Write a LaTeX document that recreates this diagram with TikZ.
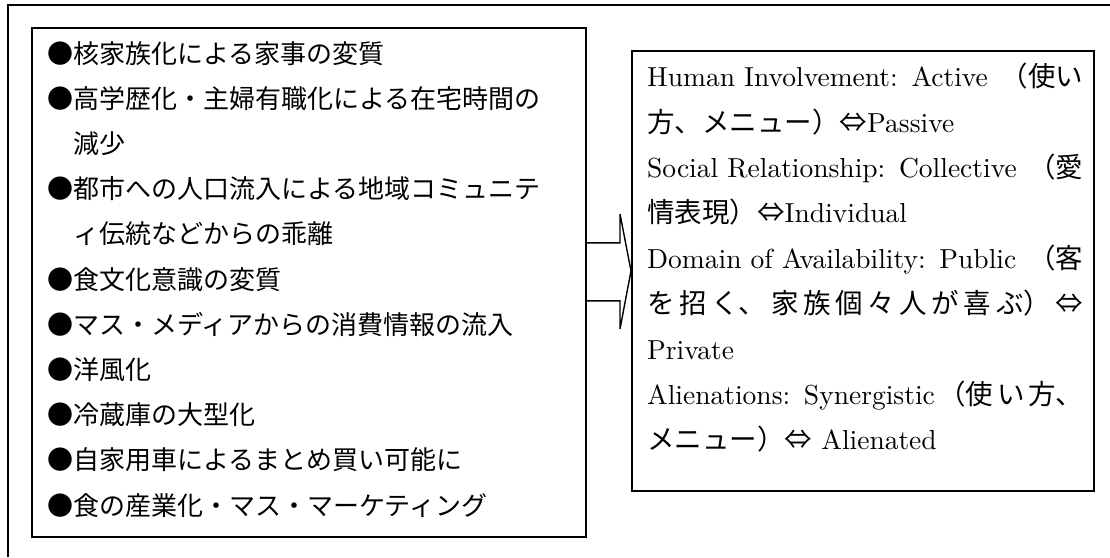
\documentclass[tikz,border=0pt]{standalone}
\usepackage{fontspec}
\setmainfont{lmroman10-regular.otf}
\newfontfamily\jp{Noto Sans CJK JP}
\usetikzlibrary{calc}
\tikzset{
  frameline/.style={line width=1.4pt},
  box/.style={draw, line width=1.6pt, inner sep=0pt, anchor=north west},
  txt/.style={inner sep=0pt, anchor=north west, align=left},
  blockarrow/.style={line width=1.4pt, line join=miter}
}
\begin{document}
\begin{tikzpicture}[x=1pt,y=-1pt]
\useasboundingbox (0,0) rectangle (1110,557);
% outer frame (only top and left edges visible)
\draw[frameline] (8,557) -- (8,5) -- (1110,5);
% boxes
\node[box, minimum width=554pt, minimum height=509pt] (L) at (31,27) {};
\node[box, line width=1.8pt, minimum width=462pt, minimum height=440pt] (R) at (631,50) {};
% left text
\node[txt, text width=530pt, font=\jp\fontsize{26}{45.2}\selectfont] (Lt) at (47,41) {\noindent
●核家族化による家事の変質\\
●高学歴化・主婦有職化による在宅時間の\\
\hspace*{1em}減少\\
●都市への人口流入による地域コミュニテ\\
\hspace*{1em}ィ伝統などからの乖離\\
●食文化意識の変質\\
●マス・メディアからの消費情報の流入\\
●洋風化\\
●冷蔵庫の大型化\\
●自家用車によるまとめ買い可能に\\
●食の産業化・マス・マーケティング};
% right text
\node[txt, text width=436pt, font=\fontsize{27.5}{45.4}\selectfont] (Rt) at (647,63) {\noindent
\makebox[\linewidth]{Human Involvement: Active\hfill{\jp （使い}}\\
{\jp 方、メニュー）⇔}Passive\\
\makebox[\linewidth]{Social Relationship: Collective\hfill{\jp （愛}}\\
{\jp 情表現）⇔}Individual\\
\makebox[\linewidth]{Domain of Availability: Public\hfill{\jp （客}}\\
\makebox[\linewidth]{\jp を\hfill 招\hfill く、\hfill 家\hfill 族\hfill 個\hfill 々\hfill 人\hfill が\hfill 喜\hfill ぶ）\hfill ⇔}\\
Private\\
\makebox[\linewidth]{Alienations: Synergistic\hfill{\jp （使\hfill い\hfill 方、}}\\
{\jp メニュー）⇔} Alienated};
% block arrow from left box to right box
\draw[blockarrow]
  ([yshift=28pt]L.east |- R.west) --
  ([xshift=-11pt,yshift=28pt]R.west) --
  ([xshift=-11pt,yshift=57pt]R.west) --
  (R.west) --
  ([xshift=-11pt,yshift=-58pt]R.west) --
  ([xshift=-11pt,yshift=-30pt]R.west) --
  ([yshift=-30pt]L.east |- R.west);
\end{tikzpicture}
\end{document}
